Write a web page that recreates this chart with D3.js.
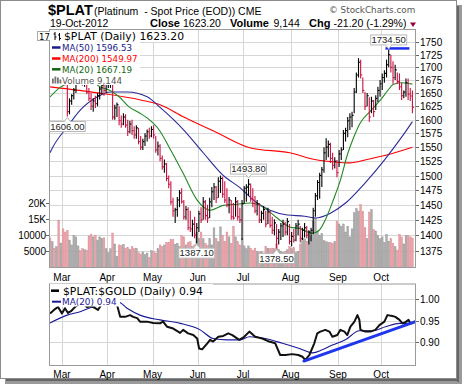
<!DOCTYPE html>
<html>
<head>
<meta charset="utf-8">
<script src="https://cdn.jsdelivr.net/npm/d3@7"></script>
<style>
body { margin: 0; background: #fff; }
text { white-space: pre; }
</style>
</head>
<body>
<svg id="chart" width="464" height="387"></svg>
<script>
// ---------------- data ----------------
const priorClose = 1705;
const priceHigh = [1705,1715,1722,1728,1738,1712,1712,1700,1672,1640,1648,1660,1680,1700,1705,1698,1690,1675,1660,1650,
  1640,1645,1650,1662,1672,1670,1680,1690,1695,1668,1628,1632,1625,1608,1612,1610,1600,1598,1600,1588,
  1590,1585,1570,1565,1575,1582,1585,1588,1590,1570,1560,1555,1535,1528,1522,1500,1490,1462,1445,1463,
  1475,1478,1458,1448,1446,1440,1425,1430,1420,1440,1446,1463,1458,1450,1462,1480,1487,1482,1497,1500,
  1498,1490,1478,1463,1458,1453,1463,1458,1445,1458,1482,1485,1493.8,1486,1478,1465,1458,1453,1440,1448,
  1440,1445,1440,1430,1426,1418,1410,1420,1425,1422,1428,1418,1405,1410,1420,1425,1415,1412,1420,1415,
  1408,1412,1445,1470,1492,1505,1515,1550,1566,1562,1558,1540,1532,1527,1545,1550,1581,1585,1605,1612,
  1615,1660,1690,1718,1715,1680,1652,1650,1642,1643,1637,1646,1662,1675,1688,1694,1715,1734.5,1725,1712,
  1705,1690,1688,1670,1655,1678,1678,1660,1655];
const priceLow = [1685,1692,1700,1700,1668,1680,1690,1665,1606,1610,1628,1638,1650,1668,1670,1664,1662,1648,1635,1618,
  1615,1622,1625,1638,1648,1645,1650,1660,1660,1600,1600,1605,1590,1585,1590,1585,1570,1575,1572,1565,
  1565,1555,1545,1545,1552,1560,1565,1568,1565,1540,1535,1525,1510,1505,1490,1478,1450,1430,1420,1430,
  1446,1452,1425,1425,1408,1405,1398,1395,1387.1,1405,1420,1425,1425,1420,1428,1446,1458,1453,1462,1470,
  1462,1453,1446,1436,1425,1425,1430,1424,1420,1392,1452,1455,1465,1455,1446,1436,1432,1420,1420,1425,
  1413,1418,1412,1402,1400,1378.5,1385,1392,1397,1400,1400,1385,1382,1388,1390,1400,1388,1392,1396,1395,
  1385,1390,1402,1430,1458,1460,1480,1505,1527,1532,1522,1510,1512,1497,1515,1527,1545,1560,1568,1581,
  1586,1612,1650,1680,1678,1650,1618,1625,1596,1612,1605,1618,1633,1643,1656,1670,1680,1700,1690,1668,
  1675,1668,1656,1637,1640,1643,1637,1635,1612];
const priceClose = [1698,1710,1705,1722,1685,1705,1695,1670,1615,1635,1645,1656,1675,1690,1685,1670,1682,1652,1640,1625,
  1635,1630,1645,1658,1665,1655,1672,1680,1688,1605,1622,1628,1598,1592,1605,1590,1578,1592,1580,1572,
  1585,1560,1550,1560,1570,1578,1570,1582,1572,1545,1552,1530,1515,1520,1495,1485,1455,1440,1442,1458,
  1470,1455,1430,1442,1412,1410,1418,1400,1412,1435,1425,1455,1432,1428,1455,1472,1480,1462,1490,1495,
  1468,1458,1450,1458,1430,1428,1455,1430,1425,1452,1478,1480,1485,1460,1452,1440,1452,1425,1436,1442,
  1418,1438,1416,1408,1420,1395,1405,1415,1418,1405,1422,1390,1398,1392,1415,1418,1395,1408,1412,1400,
  1405,1408,1440,1465,1488,1500,1510,1540,1550,1555,1530,1518,1525,1505,1538,1545,1575,1580,1598,1605,
  1608,1652,1685,1710,1685,1655,1625,1645,1605,1635,1615,1640,1655,1668,1680,1688,1705,1725,1700,1680,
  1695,1672,1662,1645,1652,1670,1648,1644.4,1623.2];
const volume = [9200,8000,6000,6500,14700,7600,12000,11000,11500,8500,7000,10000,9500,6700,5200,5800,5500,5200,9800,10300,
  9500,10000,8500,9500,9000,9200,5800,4600,5800,10700,7300,3500,7000,6800,7200,6000,6200,5500,6500,5800,
  6000,4600,4200,4800,4000,4500,3100,5200,5000,4500,5800,7000,6500,7000,7800,7800,8700,8700,7200,7500,
  6500,9900,9500,7000,7800,8000,6500,7000,11000,9000,11000,8900,7500,6800,8900,7000,12300,9000,8000,12600,
  10000,8000,11000,9500,7500,12800,9500,8000,7000,8900,6700,5800,6700,6000,5200,6000,5000,4800,5000,4500,
  6500,6000,5800,6000,5800,7300,5500,5000,4600,5000,5500,6500,5800,6200,4600,5000,7300,8900,8900,8000,
  11300,10000,14400,15300,11300,9900,10500,8300,8000,7800,7800,7500,8000,14400,13500,12800,13500,11000,12800,9500,
  12000,17000,18300,17500,19500,17400,12400,9000,17200,18000,11800,11300,9900,8900,9500,7800,10300,8000,8900,7500,
  6500,5400,10300,9500,7300,9900,9900,9500,9144];

// moving averages, [bar index, value]
const ma50 = [[0,1540],[1,1548],[8,1587],[14,1618],[22,1643],[28,1652],[36,1652],[45,1643],[51,1623],[62,1581],
  [71,1540],[80,1501],[88,1479],[96,1453],[102,1441],[110,1433],[118,1431],[123,1428],[130,1436],[137,1453],
  [146,1487],[155,1527],[163,1568],[168,1596.53]];
const ma200 = [[0,1662],[23,1650],[42,1637],[51,1628],[62,1605],[77.5,1576],[93,1548.5],[111,1540],[124,1527],
  [131,1524],[139,1522],[147,1528],[156,1536],[168,1549.97]];
const ma20 = [[0,1643],[5,1662],[12,1673],[18,1677],[23,1662],[27.4,1656],[32,1643],[36.6,1624],[41.3,1613],
  [46,1600],[50.6,1581],[55.2,1550],[61.7,1504],[68.2,1458],[74.2,1441],[80.3,1449],[86.8,1451],[92.8,1453],
  [98.9,1446],[105.3,1428],[111.4,1413],[115.6,1411],[121.6,1403],[124.8,1408],[128,1428],[131.3,1458],
  [134.6,1492],[137.8,1536],[140.6,1566],[143.8,1594],[148.5,1616],[153.2,1637],[156.4,1654],[159.2,1667],
  [162.5,1670],[168,1667.19]];

// $PLAT:$GOLD ratio and its MA(20), [bar index, value]
const ratio = [[0,0.967],[2.3,0.977],[3.7,0.982],[5.5,0.967],[6.9,0.979],[8.3,0.968],[9.7,0.972],[11.6,0.982],
  [13.9,0.991],[16.2,0.986],[17.1,0.982],[19,0.984],[20.9,0.979],[22.2,0.975],[23.6,0.986],[25.5,0.998],
  [27.8,1.002],[29.7,0.995],[31.1,0.986],[32.5,0.959],[34.8,0.959],[37.1,0.963],[38.5,0.959],[40.4,0.956],
  [41.7,0.948],[45,0.948],[47.8,0.945],[51,0.944],[52.4,0.948],[54.3,0.936],[57.1,0.932],[60.3,0.922],
  [61.7,0.929],[64,0.921],[66.4,0.917],[68.2,0.909],[69.1,0.886],[70.5,0.884],[72.9,0.898],[74.2,0.906],
  [75.6,0.902],[78,0.913],[80.3,0.915],[82.6,0.921],[84.5,0.917],[87.7,0.906],[90,0.913],[92.4,0.925],
  [95.1,0.913],[98.4,0.909],[101.6,0.902],[104.4,0.898],[106.7,0.871],[109.1,0.871],[112.3,0.873],
  [115.1,0.871],[117,0.867],[118.3,0.859],[120.2,0.871],[122.5,0.898],[123.9,0.921],[125.3,0.925],
  [127.6,0.929],[129.5,0.925],[130.9,0.913],[133.2,0.917],[134.6,0.929],[136.5,0.925],[137.8,0.917],
  [139.2,0.936],[141.1,0.948],[142.5,0.963],[143.4,0.952],[143.9,0.929],[146.2,0.925],[148.5,0.925],
  [150.8,0.929],[152.7,0.940],[155,0.948],[156.4,0.963],[158.7,0.961],[160.1,0.959],[162,0.952],
  [163.4,0.944],[164.8,0.947],[166.2,0.952],[167.1,0.944],[168,0.944]];
const ratioMa = [[0,0.945],[7.9,0.963],[13.9,0.971],[20.9,0.984],[27.8,0.993],[31.5,0.994],[35.7,0.979],
  [41.7,0.963],[51,0.952],[60.3,0.944],[69.6,0.929],[75.6,0.909],[82.1,0.906],[88.2,0.906],[92.4,0.913],
  [99.8,0.909],[107.7,0.898],[115.6,0.886],[121.6,0.876],[126.2,0.883],[130.9,0.894],[136.9,0.906],
  [143.4,0.927],[149.5,0.927],[155.5,0.936],[162,0.944],[168,0.944]];

// hand-drawn annotations
const resistance = {value: 1734.5, from: 155.5, to: 166.6};
const trendLine = [[117.7, 0.857], [169.4, 0.948]];
const lowMarks = [8, 68, 105];
const highMarks = [92, 157];

const monthNames = ["Mar","Apr","May","Jun","Jul","Aug","Sep","Oct"];
const monthStart = [6, 27, 48, 69, 90, 112, 134, 154];
const priceTicks = [1375,1400,1425,1450,1475,1500,1525,1550,1575,1600,1625,1650,1675,1700,1725,1750];
const volTicks = [5000, 10000, 15000, 20000];
const volLabels = ["5000", "10000", "15K", "20K"];
const ratioTicks = [0.90, 0.95, 1.00];

// ---------------- drawing ----------------
const svg = d3.select("#chart");
const sans = "Liberation Sans, Arial, sans-serif";
const verd = "DejaVu Sans, Verdana, sans-serif";
const RED = "#cc1040", PINK = "#e9a3a9", GREY = "#adadad";
const GRID = "#d6d6d6", BORDER = "#9a9a9a";

const main = {x0: 49, x1: 416, y0: 29, y1: 268};
const sub = {x0: 49, x1: 416, y0: 283.5, y1: 366};

const x = d3.scaleLinear().domain([-0.5, priceClose.length - 0.5]).range([49, 413.5]);
const step = x(1) - x(0);
const y = d3.scaleLog().domain([1347.8, 1777]).range([main.y1, main.y0]);
const yv = d3.scaleLinear().domain([0, 20000]).range([267.5, 203]);
const yr = d3.scaleLinear().domain([0.8456, 1.036]).range([sub.y1, sub.y0]);

const isDown = i => priceClose[i] < (i === 0 ? priorClose : priceClose[i - 1]);

// frame with shadow
svg.append("rect").attr("x", 457).attr("y", 5).attr("width", 5).attr("height", 379).attr("fill", "#9a9a9a");
svg.append("rect").attr("x", 5).attr("y", 379).attr("width", 457).attr("height", 5).attr("fill", "#9a9a9a");
svg.append("rect").attr("x", 457).attr("y", 6).attr("width", 2).attr("height", 376).attr("fill", "#666");
svg.append("rect").attr("x", 6).attr("y", 379).attr("width", 453).attr("height", 2).attr("fill", "#666");
svg.append("rect").attr("x", 0.5).attr("y", 0.5).attr("width", 456).attr("height", 378)
  .attr("fill", "#fff").attr("stroke", "#8c8c8c");

// header
const hdr = svg.append("g");
hdr.append("text").attr("x", 48).attr("y", 15).attr("font-family", sans).attr("font-size", 14.5)
  .attr("font-weight", "bold").text("$PLAT");
hdr.append("text").attr("x", 94).attr("y", 15).attr("font-family", sans).attr("font-size", 10.5)
  .text("(Platinum  - Spot Price (EOD)) CME");
hdr.append("text").attr("x", 329).attr("y", 13).attr("font-family", verd).attr("font-size", 8.8)
  .attr("fill", "#555").text("\u00a9 StockCharts.com");
const row2 = [
  {x: 50, t: "19-Oct-2012", b: false}, {x: 150, t: "Close", b: true}, {x: 183, t: "1623.20", b: false},
  {x: 230, t: "Volume", b: true}, {x: 273.5, t: "9,144", b: false}, {x: 309, t: "Chg", b: true},
  {x: 333.5, t: "-21.20 (-1.29%)", b: false}];
row2.forEach(d => hdr.append("text").attr("x", d.x).attr("y", 26.5).attr("font-family", sans)
  .attr("font-size", d.b ? 11 : 10.5).attr("font-weight", d.b ? "bold" : "normal").text(d.t));
hdr.append("path").attr("d", "M410,22.5 L416,22.5 L413,27 Z").attr("fill", "#990033");

// ---- main panel ----
const gm = svg.append("g");
gm.append("rect").attr("x", main.x0).attr("y", main.y0).attr("width", main.x1 - main.x0)
  .attr("height", main.y1 - main.y0).attr("fill", "#fff");
gm.selectAll(".hg").data(priceTicks).enter().append("line")
  .attr("x1", main.x0).attr("x2", main.x1).attr("y1", d => Math.round(y(d)) + 0.5).attr("y2", d => Math.round(y(d)) + 0.5)
  .attr("stroke", GRID);
gm.selectAll(".vg").data(monthStart).enter().append("line")
  .attr("x1", d => Math.round(x(d - 0.5)) + 0.5).attr("x2", d => Math.round(x(d - 0.5)) + 0.5)
  .attr("y1", main.y0).attr("y2", main.y1).attr("stroke", GRID);

svg.append("clipPath").attr("id", "clipMain").append("rect")
  .attr("x", main.x0).attr("y", main.y0).attr("width", main.x1 - main.x0).attr("height", main.y1 - main.y0);
const pm = gm.append("g").attr("clip-path", "url(#clipMain)");

// volume
pm.selectAll(".vol").data(volume).enter().append("rect")
  .attr("x", (d, i) => x(i - 0.5) + 0.2).attr("width", step - 0.4)
  .attr("y", d => yv(d)).attr("height", d => yv(0) - yv(d))
  .attr("fill", (d, i) => isDown(i) ? PINK : GREY)
  .attr("stroke", (d, i) => isDown(i) ? "#d98890" : "#949494").attr("stroke-width", 0.4);

// moving averages
const line = d3.line().x(d => x(d[0])).y(d => y(d[1])).curve(d3.curveMonotoneX);
pm.append("path").attr("d", line(ma200)).attr("fill", "none").attr("stroke", "#ff0000").attr("stroke-width", 1.1);
pm.append("path").attr("d", line(ma50)).attr("fill", "none").attr("stroke", "#2a2a99").attr("stroke-width", 1.1);
pm.append("path").attr("d", line(ma20)).attr("fill", "none").attr("stroke", "#228822").attr("stroke-width", 1.1);

// price bars (high-low with close tick)
const bars = pm.selectAll(".bar").data(priceClose).enter().append("g")
  .attr("stroke", (d, i) => isDown(i) ? RED : "#000").attr("stroke-width", 1.1);
bars.append("line").attr("x1", (d, i) => x(i)).attr("x2", (d, i) => x(i))
  .attr("y1", (d, i) => y(priceHigh[i])).attr("y2", (d, i) => y(priceLow[i]));
bars.append("line").attr("x1", (d, i) => x(i)).attr("x2", (d, i) => x(i) + 1.6)
  .attr("y1", d => y(d)).attr("y2", d => y(d));

// resistance line
pm.append("line").attr("x1", x(resistance.from)).attr("x2", x(resistance.to))
  .attr("y1", y(resistance.value) - 1.5).attr("y2", y(resistance.value) - 1.5)
  .attr("stroke", "#1a2cf0").attr("stroke-width", 2.5);

gm.append("rect").attr("x", main.x0 + 0.5).attr("y", main.y0 + 0.5).attr("width", main.x1 - main.x0 - 1)
  .attr("height", main.y1 - main.y0 - 1).attr("fill", "none").attr("stroke", BORDER);

// price labels
function mark(i, val, high) {
  const cx = x(i), w = 36, h = 10;
  const py = y(val);
  const top = high ? py - 5 - h : py + 5;
  const g = svg.append("g");
  g.append("rect").attr("x", cx - w / 2).attr("y", top).attr("width", w).attr("height", h)
    .attr("fill", "#fff").attr("stroke", "#b8b8b8");
  const tip = high ? py - 1 : py + 1, base = high ? top + h : top;
  g.append("path").attr("d", `M${cx - 3},${base} L${cx},${tip} L${cx + 3},${base}`)
    .attr("fill", "#fff").attr("stroke", "#b8b8b8");
  g.append("line").attr("x1", cx - 2.5).attr("x2", cx + 2.5).attr("y1", base).attr("y2", base).attr("stroke", "#fff");
  g.append("text").attr("x", cx).attr("y", top + 8.3).attr("text-anchor", "middle")
    .attr("font-family", sans).attr("font-size", 9.5).attr("fill", "#222").text(val.toFixed(2));
}
lowMarks.forEach(i => mark(i, priceLow[i], false));
highMarks.forEach(i => mark(i, priceHigh[i], true));

// legend of main panel
const lg = svg.append("g");
lg.append("rect").attr("x", 37.5).attr("y", 31.5).attr("width", 13).attr("height", 9)
  .attr("fill", "#fff").attr("stroke", "#aaa");
lg.append("text").attr("x", 39).attr("y", 39.5).attr("font-family", verd).attr("font-size", 8.5).text("17");
lg.append("rect").attr("x", 50).attr("y", 30).attr("width", 140).attr("height", 12).attr("fill", "#fff");
lg.append("rect").attr("x", 50).attr("y", 42).attr("width", 90).attr("height", 43).attr("fill", "#fff");
// ohlc icon
[[55, 32, 40, 34, 37], [59.5, 33, 40.5, 35, 38.5]].forEach(b => {
  lg.append("line").attr("x1", b[0]).attr("x2", b[0]).attr("y1", b[1]).attr("y2", b[2]).attr("stroke", "#000");
  lg.append("line").attr("x1", b[0] - 1.5).attr("x2", b[0]).attr("y1", b[3]).attr("y2", b[3]).attr("stroke", "#000");
  lg.append("line").attr("x1", b[0]).attr("x2", b[0] + 1.5).attr("y1", b[4]).attr("y2", b[4]).attr("stroke", "#000");
});
lg.append("text").attr("x", 64).attr("y", 39.5).attr("font-family", verd).attr("font-size", 10.8)
  .text("$PLAT (Daily) 1623.20");
const legendRows = [
  {c: "#1a1a8c", t: "MA(50) 1596.53", y: 47.5},
  {c: "#ff0000", t: "MA(200) 1549.97", y: 58.5},
  {c: "#116611", t: "MA(20) 1667.19", y: 69.3}];
legendRows.forEach(r => {
  lg.append("line").attr("x1", 52).attr("x2", 60.5).attr("y1", r.y).attr("y2", r.y)
    .attr("stroke", r.c).attr("stroke-width", 2.5);
  lg.append("text").attr("x", 62).attr("y", r.y + 3.3).attr("font-family", verd).attr("font-size", 8.7)
    .attr("fill", r.c).text(r.t);
});
[[52, 78.5], [54.5, 76.5], [57, 77.5], [59.5, 79.5]].forEach(b =>
  lg.append("rect").attr("x", b[0]).attr("y", b[1]).attr("width", 1.8).attr("height", 83.5 - b[1]).attr("fill", "#777"));
lg.append("text").attr("x", 62).attr("y", 83.5).attr("font-family", verd).attr("font-size", 8.7)
  .attr("fill", "#555").text("Volume 9,144");

// axes of main panel
const ax = svg.append("g").attr("font-family", sans).attr("font-size", 10);
priceTicks.forEach(p => {
  const yy = Math.round(y(p)) + 0.5;
  ax.append("line").attr("x1", main.x1).attr("x2", main.x1 + 3).attr("y1", yy).attr("y2", yy).attr("stroke", "#666");
  ax.append("text").attr("x", 420).attr("y", yy + 3.5).text(p);
});
volTicks.forEach((v, k) => {
  const yy = Math.round(yv(v)) + 0.5;
  ax.append("line").attr("x1", main.x0 - 3).attr("x2", main.x0).attr("y1", yy).attr("y2", yy).attr("stroke", "#666");
  ax.append("text").attr("x", 46).attr("y", yy + 3.5).attr("text-anchor", "end").text(volLabels[k]);
});
monthStart.forEach((m, k) => {
  ax.append("text").attr("x", x(m - 0.5)).attr("y", 280.5).attr("text-anchor", "middle").text(monthNames[k]);
  ax.append("text").attr("x", x(m - 0.5)).attr("y", 378).attr("text-anchor", "middle").text(monthNames[k]);
});

// ---- ratio panel ----
const gs = svg.append("g");
gs.append("rect").attr("x", sub.x0).attr("y", sub.y0).attr("width", sub.x1 - sub.x0)
  .attr("height", sub.y1 - sub.y0).attr("fill", "#fff");
gs.selectAll(".rh").data(ratioTicks).enter().append("line")
  .attr("x1", sub.x0).attr("x2", sub.x1).attr("y1", d => Math.round(yr(d)) + 0.5).attr("y2", d => Math.round(yr(d)) + 0.5)
  .attr("stroke", GRID);
gs.selectAll(".rv").data(monthStart).enter().append("line")
  .attr("x1", d => Math.round(x(d - 0.5)) + 0.5).attr("x2", d => Math.round(x(d - 0.5)) + 0.5)
  .attr("y1", sub.y0).attr("y2", sub.y1).attr("stroke", GRID);
svg.append("clipPath").attr("id", "clipSub").append("rect")
  .attr("x", sub.x0).attr("y", sub.y0).attr("width", sub.x1 - sub.x0).attr("height", sub.y1 - sub.y0);
const ps = gs.append("g").attr("clip-path", "url(#clipSub)");
const rline = d3.line().x(d => x(d[0])).y(d => yr(d[1]));
ps.append("path").attr("d", rline.curve(d3.curveMonotoneX)(ratioMa)).attr("fill", "none")
  .attr("stroke", "#1a1a99").attr("stroke-width", 1.1);
ps.append("path").attr("d", d3.line().x(d => x(d[0])).y(d => yr(d[1]))(ratio)).attr("fill", "none")
  .attr("stroke", "#111").attr("stroke-width", 2).attr("stroke-linejoin", "round");
ps.append("path").attr("d", d3.line().x(d => x(d[0])).y(d => yr(d[1]))(trendLine)).attr("fill", "none")
  .attr("stroke", "#1f35ee").attr("stroke-width", 3).attr("stroke-linecap", "round");
gs.append("rect").attr("x", sub.x0 + 0.5).attr("y", sub.y0 + 0.5).attr("width", sub.x1 - sub.x0 - 1)
  .attr("height", sub.y1 - sub.y0 - 1).attr("fill", "none").attr("stroke", BORDER);

// ratio legend
gs.append("rect").attr("x", 50).attr("y", 284).attr("width", 163).attr("height", 12).attr("fill", "#fff");
gs.append("rect").attr("x", 50).attr("y", 296).attr("width", 70).attr("height", 10.5).attr("fill", "#fff");
gs.append("line").attr("x1", 51).attr("x2", 59).attr("y1", 290.7).attr("y2", 290.7).attr("stroke", "#000").attr("stroke-width", 2.5);
gs.append("text").attr("x", 63).attr("y", 294.5).attr("font-family", verd).attr("font-size", 10.8)
  .text("$PLAT:$GOLD (Daily) 0.94");
gs.append("line").attr("x1", 52).attr("x2", 61).attr("y1", 301.7).attr("y2", 301.7).attr("stroke", "#1a1a99").attr("stroke-width", 2);
gs.append("text").attr("x", 62).attr("y", 305).attr("font-family", verd).attr("font-size", 8.9)
  .attr("fill", "#1a1a99").text("MA(20) 0.94");

ratioTicks.forEach(v => {
  const yy = Math.round(yr(v)) + 0.5;
  ax.append("line").attr("x1", sub.x1).attr("x2", sub.x1 + 3).attr("y1", yy).attr("y2", yy).attr("stroke", "#666");
  ax.append("text").attr("x", 420).attr("y", yy + 3.5).text(v.toFixed(2));
});
</script>
</body>
</html>
